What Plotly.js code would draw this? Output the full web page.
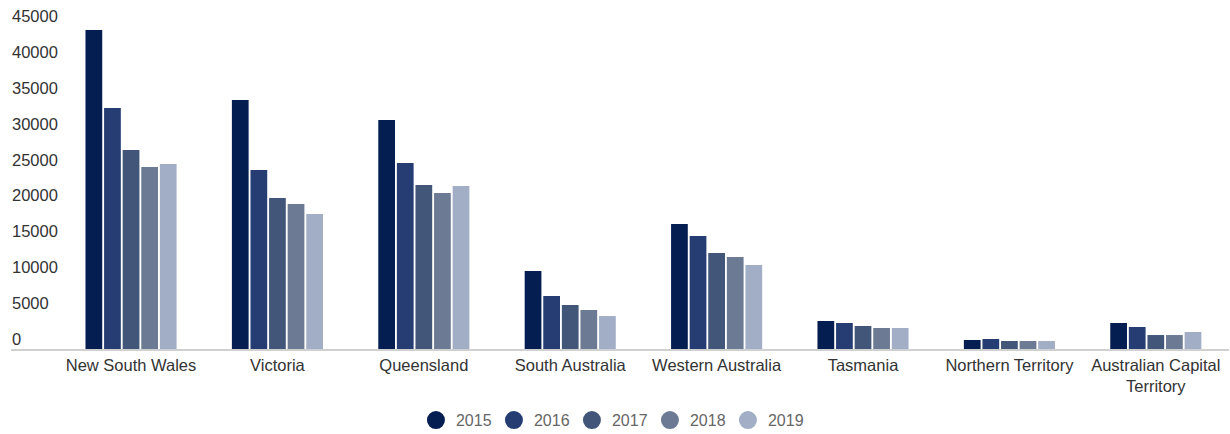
<!DOCTYPE html>
<html>
<head>
<meta charset="utf-8">
<script src="https://cdn.plot.ly/plotly-3.0.1.min.js"></script>
<style>html,body{margin:0;padding:0;background:#fff;}#chart{width:1230px;height:434px;}</style>
</head>
<body>
<div id="chart"></div>
<script>
const states = ["New South Wales", "Victoria", "Queensland", "South Australia", "Western Australia", "Tasmania", "Northern Territory", "Australian Capital<br>Territory"];
const years = ["2015", "2016", "2017", "2018", "2019"];
const v2015 = [44500, 34740, 31950, 10880, 17440, 3910, 1260, 3630];
const v2016 = [33620, 24970, 25950, 7390, 15760, 3630, 1400, 3070];
const v2017 = [27760, 21060, 22880, 6140, 13390, 3210, 1120, 1950];
const v2018 = [25390, 20230, 21760, 5440, 12830, 2930, 1120, 1950];
const v2019 = [25810, 18830, 22740, 4600, 11720, 2930, 1120, 2370];
const yTicks = [0, 5000, 10000, 15000, 20000, 25000, 30000, 35000, 40000, 45000];

const series = [v2015, v2016, v2017, v2018, v2019];
const colors = ["#041e52", "#253d73", "#42567a", "#6c7a94", "#a2aec6"];

const traces = [];
series.forEach((vals, i) => {
  traces.push({
    type: "bar", name: years[i], x: states, y: vals,
    marker: {color: colors[i]}, showlegend: false, hoverinfo: "x+y"
  });
});
series.forEach((vals, i) => {
  traces.push({
    type: "scatter", mode: "markers", name: years[i], x: [null], y: [null],
    marker: {color: colors[i], size: 16, symbol: "circle", line: {color: colors[i], width: 2}},
    showlegend: true
  });
});

const layout = {
  width: 1230, height: 434,
  margin: {l: 11, r: 1, t: 5, b: 85},
  paper_bgcolor: "#fff", plot_bgcolor: "#fff",
  font: {family: "Liberation Sans, Arial, sans-serif", size: 16.5, color: "#333"},
  barmode: "group", bargap: 0.365, bargroupgap: 0.1,
  xaxis: {
    type: "category", range: [-0.82, 7.5],
    showline: true, linecolor: "#d0d0d0", linewidth: 2,
    showgrid: false, zeroline: false, ticks: "",
    tickfont: {size: 16.5, color: "#333"}, fixedrange: true
  },
  yaxis: {
    range: [0, 48000], tickvals: yTicks, ticktext: yTicks.map(String),
    showgrid: false, zeroline: false, showline: false, ticks: "",
    ticklabelposition: "inside", ticklabelshift: -10, ticklabelstandoff: -2,
    tickfont: {size: 16.5, color: "#333"}, fixedrange: true
  },
  showlegend: true,
  legend: {
    orientation: "h", xref: "container", yref: "container",
    x: 0.4967, xanchor: "center", y: 0.032, yanchor: "middle",
    font: {size: 16, color: "#666"}, itemsizing: "trace", traceorder: "normal",
    entrywidth: 33
  }
};

Plotly.newPlot("chart", traces, layout, {displayModeBar: false, staticPlot: true});
</script>
</body>
</html>
